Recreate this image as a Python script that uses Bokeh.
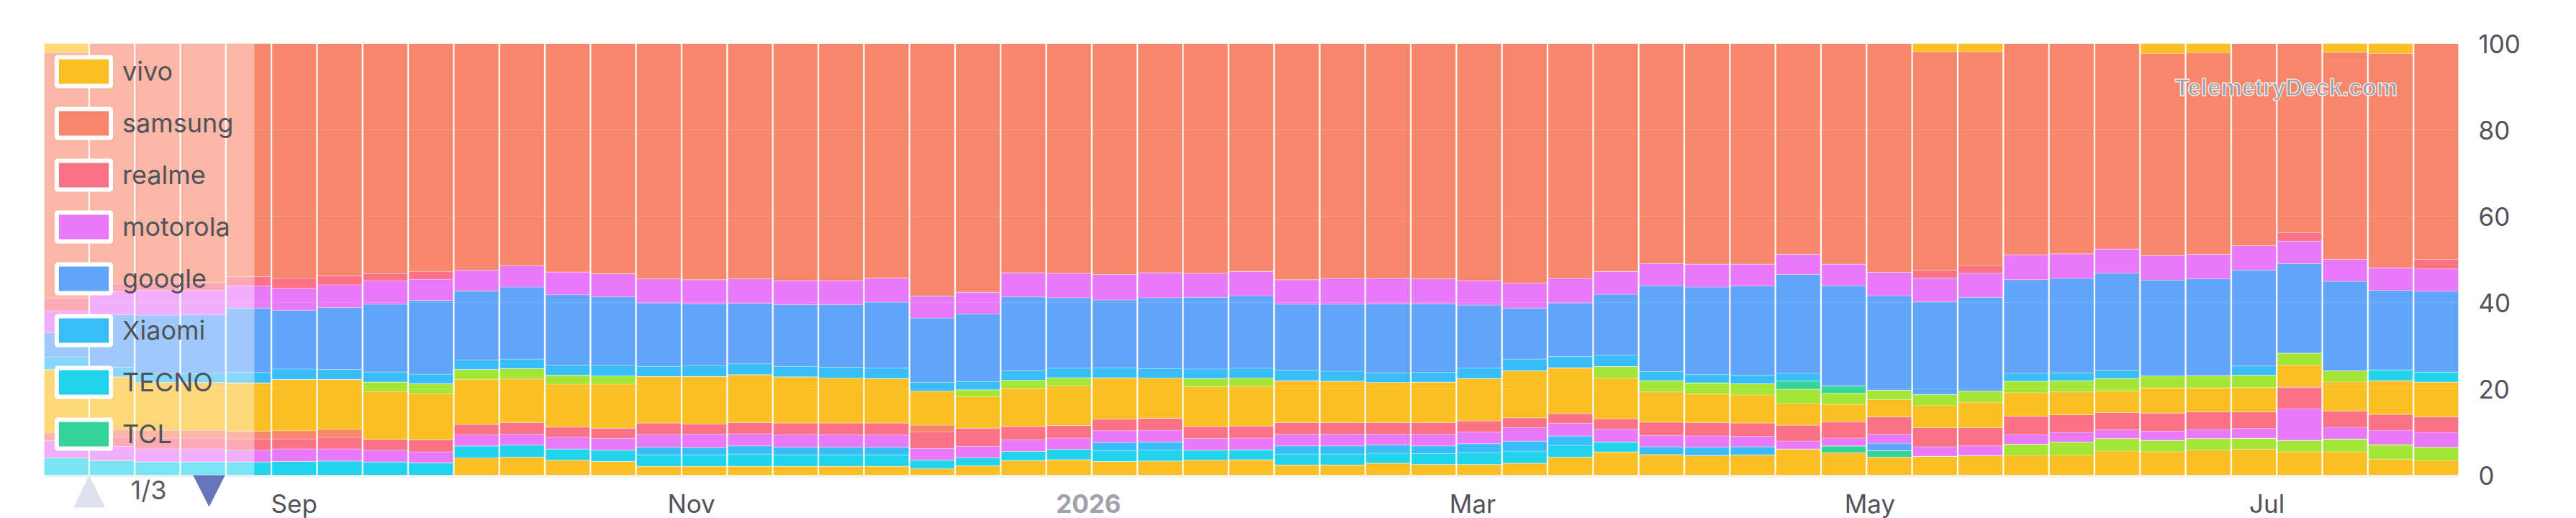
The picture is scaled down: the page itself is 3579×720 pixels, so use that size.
import pandas as pd
from bokeh.plotting import figure
from bokeh.core.properties import value
from bokeh.models import (ColumnDataSource, Range1d, FixedTicker, Legend, LegendItem,
                          BoxAnnotation, PolyAnnotation, Label, Span)
from bokeh.embed import file_html
from bokeh.resources import INLINE

# ---------------- data ----------------
weeks = pd.date_range("2025-07-28", periods=53, freq="7D")

# series in legend order (top of stack first); s09..s19 are on legend pages 2-3
vivo     = [2.1] + [0]*40 + [1.9, 1.9, 0, 0, 0, 2.3, 2.1, 0, 0, 2.0, 2.3, 0]
samsung  = [56.8, 55.6, 55.3, 55.3, 54.2, 54.4, 53.8, 53.3, 52.8, 52.5, 51.5, 52.9, 53.3, 54.5, 54.7, 54.5,
            54.9, 54.9, 54.3, 58.5, 57.6, 53.1, 53.2, 53.5, 53.1, 53.2, 52.8, 54.7, 54.4, 54.4, 54.5, 54.9,
            55.5, 54.4, 52.8, 51.0, 51.1, 51.1, 48.8, 51.1, 53.0, 50.6, 49.5, 48.9, 48.7, 47.6, 46.8, 46.7,
            46.8, 43.8, 48.0, 49.6, 50.0]
realme   = [3.0, 1.9, 1.9, 1.9, 2.1, 2.3, 2.1, 1.7, 1.8] + [0]*32 + [1.8, 1.8] + [0]*6 + [2.0, 0, 0, 2.2]
motorola = [5.1, 5.3, 5.7, 5.6, 5.2, 5.1, 5.3, 5.4, 4.9, 4.8, 4.9, 5.3, 5.4, 5.6, 5.6, 5.7, 5.6, 5.6, 5.6,
            5.1, 5.0, 5.6, 5.7, 5.9, 5.8, 5.6, 5.6, 5.7, 6.0, 5.9, 5.8, 5.7, 5.8, 5.7, 5.3, 5.1, 5.3, 5.1,
            4.7, 5.0, 5.4, 5.5, 5.6, 5.8, 5.7, 5.6, 5.7, 5.7, 5.7, 5.2, 5.1, 5.3, 5.2]
google   = [5.6, 12.2, 13.5, 13.6, 14.9, 13.6, 14.3, 15.7, 17.1, 16.0, 16.7, 16.3, 15.9, 14.7, 14.3, 14.0,
            14.3, 14.5, 15.3, 14.9, 15.7, 17.1, 16.3, 15.7, 16.4, 16.6, 16.8, 15.3, 15.5, 16.0, 15.9, 14.6,
            11.8, 12.4, 14.1, 19.9, 20.3, 20.6, 22.9, 23.2, 21.9, 21.5, 21.7, 21.7, 21.9, 22.5, 22.2, 22.4,
            22.2, 20.7, 20.7, 18.4, 18.7]
xiaomi   = [2.9, 2.2, 2.1, 2.1, 2.4, 2.4, 2.3, 2.3, 2.2, 2.2, 2.2, 2.3, 2.4, 2.3, 2.5, 2.5, 2.4, 2.5, 2.4,
            2.0, 1.9, 2.2, 2.2, 2.3, 2.2, 2.2, 2.3, 2.4, 2.3, 2.2, 2.2, 2.4, 2.7, 2.6, 2.6, 2.1, 1.9, 2.0,
            1.8, 0, 0, 0, 0, 1.8, 1.8, 1.9, 0, 0, 2.1, 0, 0, 0, 0]
tecno    = [0]*51 + [2.5, 2.3]
tcl      = [0]*38 + [1.9, 1.7] + [0]*13
s09      = [0]*7 + [2.2, 2.3, 2.3, 2.4, 2.1, 1.9] + [0]*7 + [1.6, 1.9, 1.9, 0, 0, 1.9, 1.9] + [0]*7 + \
           [2.8, 2.6, 2.6, 2.6, 3.3, 2.6, 2.2, 2.6, 2.6, 2.7, 2.6, 2.9, 2.8, 2.9, 2.9, 2.8, 2.6, 0, 0]
s10      = [14.6, 12.2, 11.1, 11.1, 11.2, 11.9, 11.6, 11.1, 10.7, 10.4, 10.1, 9.9, 10.2, 10.8, 11.0, 11.1,
            10.7, 10.4, 10.3, 7.9, 7.3, 8.8, 9.2, 9.6, 9.3, 9.2, 9.2, 9.7, 9.6, 9.3, 9.4, 9.8, 10.9, 10.6,
            9.3, 7.0, 6.6, 6.5, 5.0, 4.0, 4.0, 5.1, 5.9, 5.4, 5.3, 5.0, 5.8, 5.5, 5.6, 5.1, 6.7, 7.8, 8.1]
s11      = [1.9, 1.7, 1.8, 1.8, 1.8, 1.9, 1.8] + [0]*12 + [1.5] + [0]*33
s12      = [0, 2.2, 2.5, 2.5, 2.6, 2.3, 2.7, 2.5, 2.8, 2.5, 2.7, 2.4, 2.4, 2.7, 2.4, 2.6, 2.7, 2.7, 2.8,
            3.9, 4.2, 3.1, 2.9, 2.7, 2.8, 2.8, 2.8, 2.7, 2.7, 2.7, 2.7, 2.6, 2.3, 2.3, 2.4, 3.1, 3.1, 3.1,
            3.7, 3.8, 4.0, 4.4, 4.2, 4.3, 4.1, 4.0, 4.2, 4.1, 3.9, 5.0, 3.8, 3.7, 3.6]
s13      = [4.0, 3.3, 3.0, 3.0, 2.7, 2.9, 2.8, 2.7, 2.5, 2.5, 2.5, 2.7, 2.7, 2.9, 3.1, 2.8, 2.9, 2.9, 2.8,
            2.7, 2.6, 2.7, 2.6, 2.7, 2.7, 2.7, 2.7, 2.7, 2.7, 2.5, 2.7, 2.7, 3.1, 2.9, 3.0, 2.6, 2.6, 2.4,
            1.8, 1.8, 2.1, 2.2, 2.2, 2.2, 2.2, 2.0, 2.1, 2.1, 2.2, 7.3, 2.7, 3.3, 3.4]
s14      = [0]*40 + [1.7] + [0]*12
s15      = [0]*13 + [1.8, 1.7, 1.9, 1.8, 1.8, 1.8, 0, 0, 0, 0, 1.9, 1.9, 0, 0, 1.9, 1.9, 1.9, 1.8, 2.1,
            2.3, 2.2, 0, 1.8, 1.9, 1.9] + [0]*15
s16      = [4.0, 3.4, 3.1, 3.1, 3.1, 3.2, 3.3, 3.1, 2.9, 2.8, 2.8, 2.6, 2.6, 2.6, 2.6, 2.8, 2.6, 2.6, 2.6,
            2.0, 1.9, 2.1, 2.4, 2.5, 2.5, 2.3, 2.3, 2.5, 2.5, 2.3, 2.5, 2.7, 2.8, 2.7, 2.3] + [0]*18
s17      = [0]*39 + [1.6, 1.5] + [0]*12
s18      = [0]*43 + [2.6, 3.1, 2.9, 2.7, 2.7, 2.6, 2.7, 3.0, 3.4, 3.1]
s19      = [0]*9 + [4.0, 4.2, 3.5, 3.2, 2.1, 2.1, 2.1, 2.1, 2.1, 2.1, 1.5, 2.2, 3.4, 3.6, 3.2, 3.3, 3.5,
            3.6, 2.4, 2.4, 2.8, 2.5, 2.5, 2.8, 4.2, 5.4, 4.8, 4.6, 4.7, 6.1, 5.2, 4.2, 4.4, 4.6, 4.6, 4.6,
            5.6, 5.4, 5.8, 6.0, 5.4, 5.4, 3.7, 3.4]

legend_names = ["vivo", "samsung", "realme", "motorola", "google", "Xiaomi", "TECNO", "TCL"]

series_keys = ["vivo", "samsung", "realme", "motorola", "google", "xiaomi", "tecno", "tcl",
               "s09", "s10", "s11", "s12", "s13", "s14", "s15", "s16", "s17", "s18", "s19"]
series_vals = [vivo, samsung, realme, motorola, google, xiaomi, tecno, tcl,
               s09, s10, s11, s12, s13, s14, s15, s16, s17, s18, s19]

palette = ["#fbbf24", "#f7876a", "#fb7185", "#e879f9", "#60a5fa", "#38bdf8", "#22d3ee", "#34d399", "#a3e635"]
series_colors = [palette[i % len(palette)] for i in range(len(series_keys))]

tick_dates = ["2025-09-01", "2025-11-01", "2026-03-01", "2026-05-01", "2026-07-01"]
tick_labels = ["Sep", "Nov", "Mar", "May", "Jul"]
year_date, year_text = "2026-01-01", "2026"
y_ticks = [0, 20, 40, 60, 80, 100]

# ---------------- figure ----------------
def ms(d):
    return pd.Timestamp(d).value / 1e6

DAY = 86400000
PX = 6.0                      # pixels per percentage point (frame 600px for 0..100)
x_start = ms(weeks[0]) - 3.5 * DAY
x_end = ms(weeks[-1]) + 3.5 * DAY

# the frame extends 60px below 0 so the date labels and the legend pager sit inside it
p = figure(x_range=Range1d(x_start, x_end), y_range=Range1d(-60 / PX, 100),
           frame_width=3356, frame_height=660,
           min_border_left=60, min_border_right=163, min_border_top=60, min_border_bottom=0,
           toolbar_location=None, output_backend="svg", x_axis_location=None, y_axis_location="right",
           outline_line_color=None, background_fill_color="white", border_fill_color="white")

data = {"week": [ms(w) for w in weeks]}
for k, v in zip(series_keys, series_vals):
    data[k] = v
source = ColumnDataSource(data)

stack_keys = series_keys[::-1]          # bottom of stack first
stack_colors = series_colors[::-1]
p.vbar_stack(stack_keys, x="week", width=7 * DAY * 0.97, source=source,
             fill_color=stack_colors, line_color="white", line_alpha=0.3, line_width=1)

# grid
p.xgrid.grid_line_color = None
p.ygrid.ticker = FixedTicker(ticks=y_ticks[1:])
p.ygrid.grid_line_color = "white"
p.ygrid.grid_line_alpha = 0.15
p.ygrid.level = "annotation"

# x axis baseline
p.add_layout(Span(location=-1.5 / PX, dimension="width", line_color="#f1f1f3", line_width=3))

# y axis (right)
ya = p.yaxis[0]
ya.ticker = FixedTicker(ticks=y_ticks)
ya.major_tick_out = 0
ya.major_tick_in = 0
ya.minor_tick_out = 0
ya.minor_tick_in = 0
ya.axis_line_color = None
ya.major_label_text_font = "Inter"
ya.major_label_text_font_size = "35px"
ya.major_label_text_color = "#52525b"
ya.major_label_standoff = 27

# date tick labels
LABEL_Y = -39 / PX
tick_src = ColumnDataSource(dict(x=[ms(d) for d in tick_dates], text=tick_labels))
p.text(x="x", y=LABEL_Y, text="text", source=tick_src, text_font=value("Inter"),
       text_font_size="35px", text_color="#52525b", text_align="center", text_baseline="alphabetic")
p.add_layout(Label(x=ms(year_date), y=LABEL_Y, text=year_text,
                   text_font="Inter", text_font_style="bold", text_font_size="35px",
                   text_color="#a1a1aa", text_align="center", text_baseline="alphabetic"))

# translucent legend backdrop
p.add_layout(BoxAnnotation(left=0, right=293, left_units="screen", right_units="screen",
                           bottom=0, top=100, fill_color="white", fill_alpha=0.4, line_alpha=0))

# legend (page 1 of 3); proxy glyphs sit outside the visible x range
proxy = ColumnDataSource(dict(x=[x_start - 30 * DAY], top=[0]))
items = []
for name, col in zip(legend_names, series_colors[:8]):
    r = p.vbar(x="x", top="top", width=DAY, source=proxy, fill_color=col,
               line_color="white", line_width=6)
    items.append(LegendItem(label=name, renderers=[r]))
legend = Legend(items=items, location=(0, 83), orientation="vertical",
                glyph_width=94, glyph_height=50, spacing=22, padding=9, margin=0,
                label_text_font="Inter", label_text_font_size="36px", label_text_color="#52525b",
                label_standoff=7, label_height=40, background_fill_alpha=0, border_line_alpha=0)
p.add_layout(legend)

# legend pager
p.add_layout(PolyAnnotation(xs=[41.7, 85.7, 63.3], ys=[-45 / PX, -45 / PX, 0], xs_units="screen",
                            fill_color="#dfe1f0", fill_alpha=1, line_alpha=0))
p.add_layout(PolyAnnotation(xs=[207.7, 252.3, 230], ys=[0, 0, -44 / PX], xs_units="screen",
                            fill_color="#6476b9", fill_alpha=1, line_alpha=0))
p.add_layout(Label(x=146, y=-20 / PX, x_units="screen", text="1/3",
                   text_font="Inter", text_font_size="36px", text_color="#5a5a62",
                   text_align="center", text_baseline="alphabetic"))

# watermark
p.add_layout(Label(x=3116, y=(600 - 61) / PX, x_units="screen", text="TelemetryDeck.com",
                   text_font="Liberation Sans", text_font_style="bold", text_font_size="33px",
                   text_color="#a1a1aa", text_outline_color="white",
                   text_align="center", text_baseline="alphabetic"))

open("out.html", "w").write(file_html(p, INLINE))
